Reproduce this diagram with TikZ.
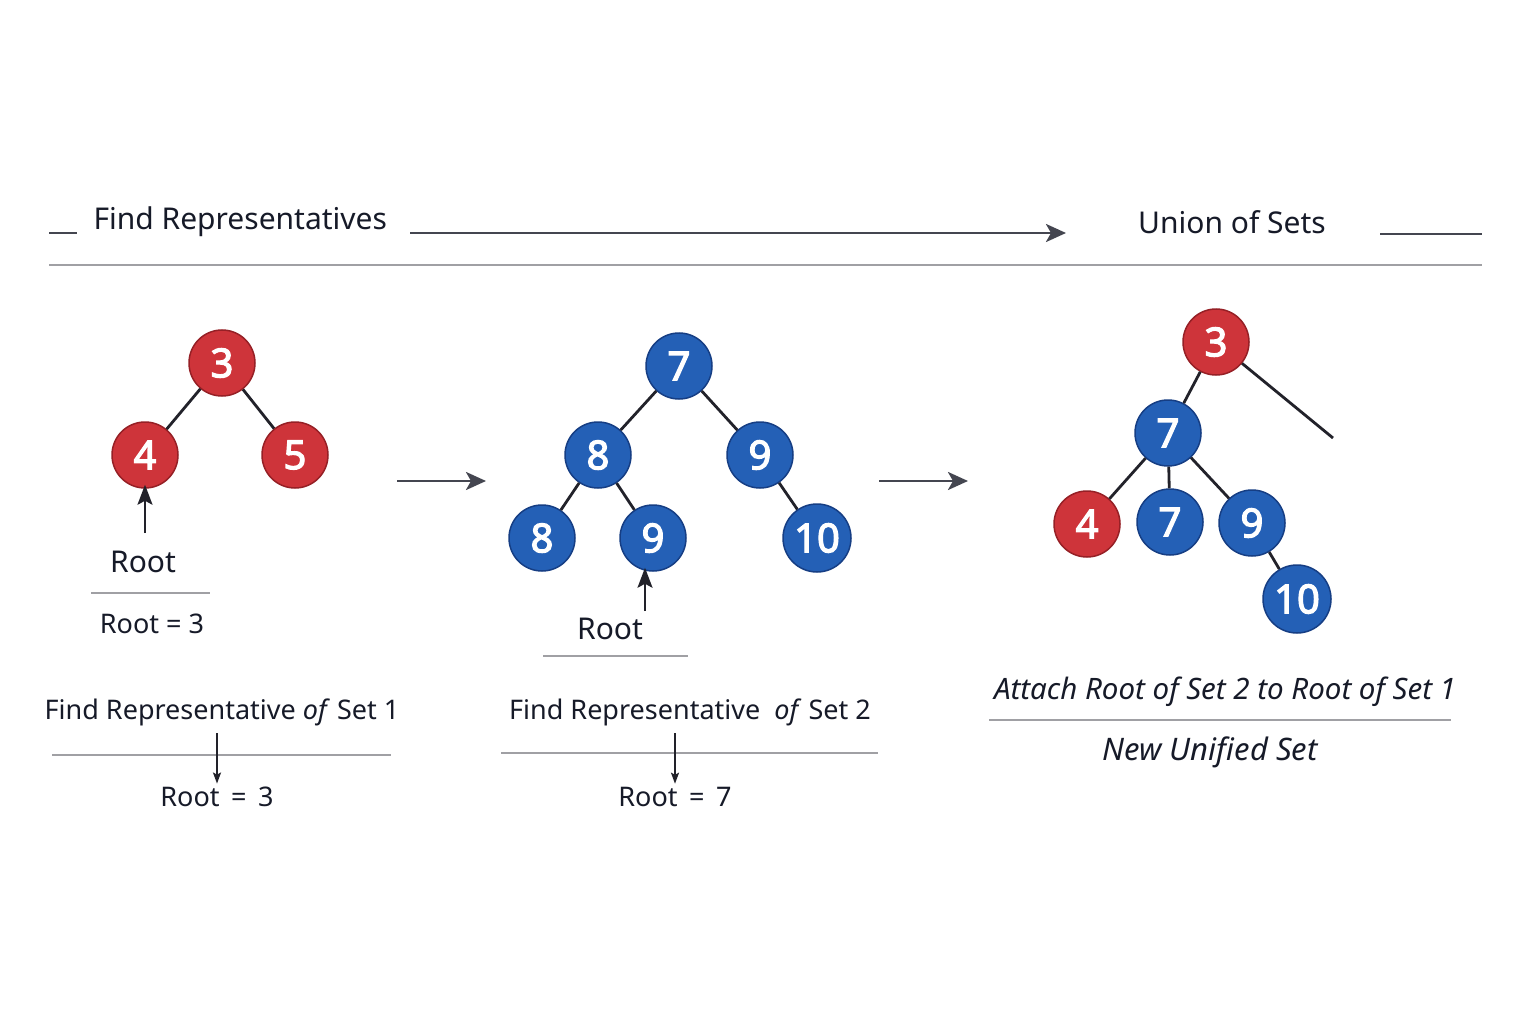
\documentclass[tikz,border=0pt]{standalone}
\usepackage{fontspec}
\setmainfont{Noto Sans}
\newfontfamily\dsunum{Noto Sans}[FakeBold=3]
\usetikzlibrary{arrows.meta}
\definecolor{dsucolor0000}{RGB}{255,255,255}
\definecolor{dsucolor0001}{RGB}{22,26,40}
\definecolor{dsucolor0002}{RGB}{206,52,58}
\definecolor{dsucolor0003}{RGB}{150,32,38}
\definecolor{dsucolor0004}{RGB}{36,96,182}
\definecolor{dsucolor0005}{RGB}{22,62,132}
\definecolor{dsucolor0006}{RGB}{68,70,80}
\definecolor{dsucolor0007}{RGB}{160,160,164}
\definecolor{dsucolor0008}{RGB}{34,34,42}

\begin{document}
\begin{tikzpicture}[yscale=-1
,dstyle0/.style={circle,draw=dsucolor0003,fill=dsucolor0002,line width=1.5pt,minimum size=66pt,inner sep=0pt,text=white,font=\dsunum\fontsize{40}{44}\selectfont}
,dstyle1/.style={dstyle0,draw=dsucolor0005,fill=dsucolor0004}
,dstyle2/.style={color=dsucolor0008,line width=2.8pt}
,dstyle3/.style={color=dsucolor0006,line width=2.8pt,-{Stealth[length=20pt,width=18pt,inset=5pt]}}
,dstyle4/.style={color=dsucolor0007,line width=1.2pt}
,dstyle5/.style={color=dsucolor0008,line width=2.2pt,-{Stealth[length=20pt,width=15pt,inset=4pt]}}
,dstyle6/.style={color=dsucolor0001,font=\fontsize{30}{36}\selectfont}
,dstyle7/.style={color=dsucolor0001,font=\fontsize{27}{33}\selectfont}
]
\fill[dsucolor0000] (0pt,0pt) rectangle (1536pt,1024pt);
\useasboundingbox (0pt,0pt) rectangle (1536pt,1024pt);
% header
\coordinate (h0) at (49pt,233pt);
\coordinate (h1) at (77pt,233pt);
\coordinate (h2) at (410pt,233pt);
\coordinate (h3) at (1066pt,233pt);
\coordinate (h4) at (1380pt,234pt);
\coordinate (h5) at (1482pt,234pt);
\coordinate (h6) at (49pt,265pt);
\coordinate (h7) at (1482pt,265pt);
\draw[dstyle2,color=dsucolor0006] (h0) -- (h1);
\node (hfind) at (90pt,222pt)[anchor=west,dstyle6]{Find Representatives};
\draw[dstyle3] (h2) -- (h3);
\node (hunion) at (1232pt,222pt)[dstyle6]{Union of Sets};
\draw[dstyle2,color=dsucolor0006] (h4) -- (h5);
\draw[dstyle4] (h6) -- (h7);
% set 1
\node (s1a) at (222pt,363pt)[dstyle0]{3};
\node (s1b) at (145pt,455pt)[dstyle0]{4};
\node (s1c) at (295pt,455pt)[dstyle0]{5};
\draw[dstyle2] (s1a) -- (s1b);
\draw[dstyle2] (s1a) -- (s1c);
\node (s1root) at (143pt,562pt)[dstyle6]{Root};
\coordinate (s1r0) at (145pt,533pt);
\draw[dstyle5] (s1r0) -- ([yshift=-4pt]s1b.south);
\coordinate (s1l0) at (91pt,593pt);
\coordinate (s1l1) at (210pt,593pt);
\draw[dstyle4] (s1l0) -- (s1l1);
\node (s1eq) at (152pt,624pt)[dstyle7]{Root = 3};
% step arrows
\coordinate (a0) at (397pt,481pt);
\coordinate (a1) at (486pt,481pt);
\coordinate (a2) at (879pt,481pt);
\coordinate (a3) at (968pt,481pt);
\draw[dstyle3] (a0) -- (a1);
\draw[dstyle3] (a2) -- (a3);
% set 2
\node (s2a) at (679pt,366pt)[dstyle1]{7};
\node (s2b) at (598pt,455pt)[dstyle1]{8};
\node (s2c) at (760pt,455pt)[dstyle1]{9};
\node (s2d) at (542pt,538pt)[dstyle1]{8};
\node (s2e) at (653pt,538pt)[dstyle1]{9};
\node (s2f) at (817pt,538pt)[dstyle1,minimum size=68pt]{10};
\draw[dstyle2] (s2a) -- (s2b);
\draw[dstyle2] (s2a) -- (s2c);
\draw[dstyle2] (s2b) -- (s2d);
\draw[dstyle2] (s2b) -- (s2e);
\draw[dstyle2] (s2c) -- (s2f);
\node (s2root) at (610pt,629pt)[dstyle6]{Root};
\coordinate (s2r0) at (645pt,611pt);
\draw[dstyle5] (s2r0) -- ([yshift=-4pt]s2r0 |- s2e.south);
\coordinate (s2l0) at (543pt,656pt);
\coordinate (s2l1) at (688pt,656pt);
\draw[dstyle4] (s2l0) -- (s2l1);
% union
\node (s3a) at (1216pt,342pt)[dstyle0]{3};
\node (s3b) at (1168pt,433pt)[dstyle1]{7};
\node (s3c) at (1087pt,524pt)[dstyle0]{4};
\node (s3d) at (1170pt,522pt)[dstyle1]{7};
\node (s3e) at (1252pt,523pt)[dstyle1]{9};
\node (s3f) at (1297pt,599pt)[dstyle1,minimum size=68pt]{10};
\coordinate (s3x) at (1333pt,438pt);
\draw[dstyle2] (s3a) -- (s3b);
\draw[dstyle2] (s3a) -- (s3x);
\draw[dstyle2] (s3b) -- (s3c);
\draw[dstyle2] (s3b) -- (s3d);
\draw[dstyle2] (s3b) -- (s3e);
\draw[dstyle2] (s3e) -- (s3f);
% captions
\node (c1) at (222pt,712pt)[dstyle7]{Find Representative \textit{of} Set 1};
\coordinate (c1l0) at (52pt,755pt);
\coordinate (c1l1) at (391pt,755pt);
\draw[dstyle4] (c1l0) -- (c1l1);
\node (c1eq) at (217pt,797pt)[dstyle7]{Root \,=\, 3};
\draw[dstyle5,line width=1.6pt,-{Stealth[length=11pt,width=8pt,inset=2pt]}] (217pt,733pt) -- (c1eq.north);
\node (c2) at (690pt,712pt)[dstyle7]{Find Representative\ \ \textit{of} Set 2};
\coordinate (c2l0) at (501pt,753pt);
\coordinate (c2l1) at (878pt,753pt);
\draw[dstyle4] (c2l0) -- (c2l1);
\node (c2eq) at (675pt,797pt)[dstyle7]{Root \,=\, 7};
\draw[dstyle5,line width=1.6pt,-{Stealth[length=11pt,width=8pt,inset=2pt]}] (675pt,733pt) -- (c2eq.north);
\node (c3) at (1225pt,692pt)[dstyle7,font=\fontsize{29.5}{35}\selectfont\itshape]{Attach Root of Set 2 to Root of Set 1};
\coordinate (c3l0) at (989pt,720pt);
\coordinate (c3l1) at (1451pt,720pt);
\draw[dstyle4] (c3l0) -- (c3l1);
\node (c3u) at (1210pt,752pt)[dstyle7,font=\fontsize{31}{36}\selectfont\itshape]{New Unified Set};
\end{tikzpicture}
\end{document}
